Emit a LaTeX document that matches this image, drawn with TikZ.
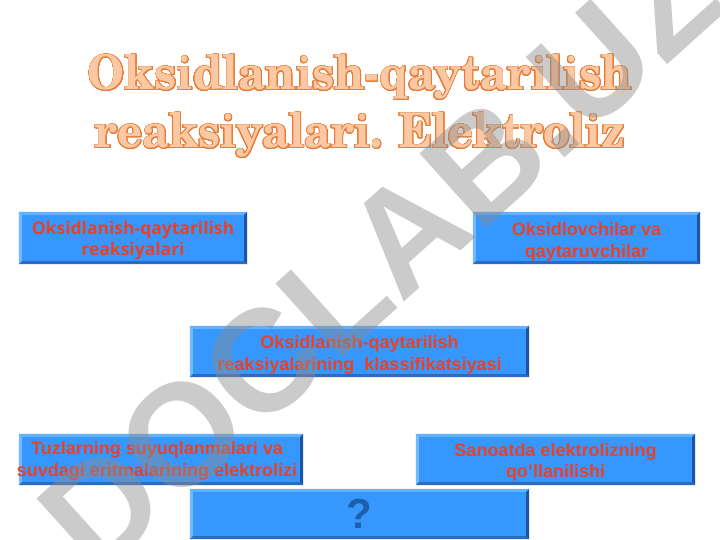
\documentclass[tikz,border=0pt]{standalone}
\usepackage{fontspec}
\usepackage{graphicx}
\usepackage[copies]{contour}
\setmainfont{Liberation Sans}
\newfontfamily\opensansf{Open Sans}
\newfontfamily\titlef{texgyreschola}[Extension=.otf,UprightFont=*-bold]
\definecolor{boxblue}{RGB}{54,152,255}
\definecolor{bevtopc}{RGB}{98,178,255}
\definecolor{bevleftc}{RGB}{112,186,255}
\definecolor{bevbotc}{RGB}{40,108,196}
\definecolor{bevrightc}{RGB}{28,84,160}
\definecolor{boxtext}{RGB}{230,66,40}
\definecolor{qblue}{RGB}{30,96,170}
\definecolor{titlefill}{RGB}{250,200,162}
\definecolor{titleline}{RGB}{232,124,56}
\definecolor{wmgray}{RGB}{140,140,140}
\contourlength{0.75pt}
\contournumber{32}
\begin{document}
\begin{tikzpicture}[x=1pt,y=-1pt,
  bluebox/.style={rectangle,fill=boxblue,inner sep=0pt},
  boxlabel/.style={inner sep=0pt,align=center,text=boxtext,
    font=\bfseries\fontsize{18}{21.5}\selectfont},
  titletext/.style={inner sep=0pt,text=titlefill,font=\titlef\fontsize{48}{48}\selectfont},
  wmark/.style={text=wmgray,text opacity=0.45,inner sep=0pt,
    font=\bfseries\fontsize{145}{145}\selectfont}]
\useasboundingbox (0,0) rectangle (720,540);
\fill[white] (0,0) rectangle (720,540);
% title
\node[titletext,anchor=base] (t1) at (360,90) {\resizebox{544pt}{\height}{\contour{titleline}{Oksidlanish-qaytarilish}}};
\node[titletext,anchor=base] (t2) at (360,148) {\resizebox{530pt}{\height}{\contour{titleline}{reaksiyalari. Elektroliz}}};
% boxes
\node[bluebox,minimum width=228pt,minimum height=52pt] (b1) at (133,238) {};
\node[bluebox,minimum width=227pt,minimum height=52pt] (b2) at (586.5,238) {};
\node[bluebox,minimum width=339pt,minimum height=51pt] (b3) at (359.5,351.5) {};
\node[bluebox,minimum width=284pt,minimum height=51pt] (b4) at (161,459.5) {};
\node[bluebox,minimum width=279pt,minimum height=51pt] (b5) at (555.5,459.5) {};
\node[bluebox,minimum width=339pt,minimum height=50pt] (b6) at (359.5,514) {};
% bevels
\foreach \n in {b1,b2,b3,b4,b5,b6}{
  \fill[bevtopc] (\n.north west) -- (\n.north east) -- ([shift={(-3pt,-3pt)}]\n.north east) -- ([shift={(3pt,-3pt)}]\n.north west) -- cycle;
  \fill[bevleftc] (\n.north west) -- (\n.south west) -- ([shift={(3pt,3pt)}]\n.south west) -- ([shift={(3pt,-3pt)}]\n.north west) -- cycle;
  \fill[bevbotc] (\n.south west) -- (\n.south east) -- ([shift={(-3pt,3pt)}]\n.south east) -- ([shift={(3pt,3pt)}]\n.south west) -- cycle;
  \fill[bevrightc] (\n.north east) -- (\n.south east) -- ([shift={(-3pt,3pt)}]\n.south east) -- ([shift={(-3pt,-3pt)}]\n.north east) -- cycle;
}
% labels
\node[boxlabel,font=\opensansf\bfseries\fontsize{17.5}{20.7}\selectfont] (l1) at ([yshift=-2.5pt]b1.center)
  {Oksidlanish-qaytarilish\\reaksiyalari};
\node[boxlabel] (l2) at ([yshift=-4pt]b2.center) {Oksidlovchilar va\\qaytaruvchilar};
\node[boxlabel] (l3) at ([yshift=-3.5pt]b3.center)
  {Oksidlanish-qaytarilish\\reaksiyalarining\ \ klassifikatsiyasi};
\node[boxlabel] (l4) at ([xshift=-4pt,yshift=-1.5pt]b4.center)
  {Tuzlarning suyuqlanmalari va\\suvdagi eritmalarining elektrolizi};
\node[boxlabel] (l5) at ([yshift=-3pt]b5.center) {Sanoatda elektrolizning\\qo'llanilishi};
\node[boxlabel,text=qblue,font=\bfseries\fontsize{42}{42}\selectfont] (l6) at (b6.center) {?};
% watermark
\node[wmark,rotate=42] (wm) at (380,257) {DOCLAB.UZ};
\end{tikzpicture}
\end{document}
